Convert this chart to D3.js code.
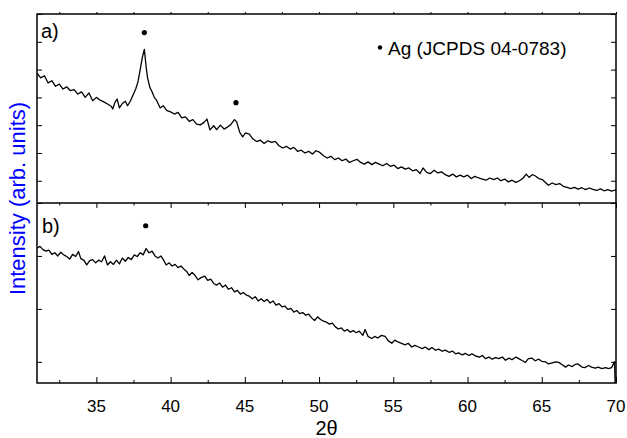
<!DOCTYPE html>
<html>
<head>
<meta charset="utf-8">
<script src="https://cdn.jsdelivr.net/npm/d3@7"></script>
<style>
  body { margin: 0; background: white; }
  text { font-family: "Liberation Sans", Arial, sans-serif; }
</style>
</head>
<body>
<div id="container"></div>
<script>
// pattern a) : 2theta and intensity
let thetaA = [31.00,31.25,31.50,31.75,32.00,32.25,32.50,32.75,33.00,33.25,33.50,33.75,34.00,34.25,34.50,34.75,35.00,35.25,35.50,35.75,
  36.00,36.10,36.25,36.40,36.55,36.75,36.95,37.10,37.30,37.50,37.65,37.80,37.95,38.10,38.23,38.35,38.45,38.60,38.75,38.90,
  39.05,39.30,39.50,39.75,40.00,40.25,40.50,40.75,41.00,41.25,41.50,41.75,42.00,42.25,42.45,42.65,42.90,43.10,43.35,43.60,
  43.85,44.05,44.30,44.45,44.65,44.85,45.05,45.30,45.55,45.80,46.05,46.30,46.55,46.80,47.05,47.30,47.55,47.80,48.05,48.30,
  48.55,48.80,49.05,49.30,49.55,49.80,50.05,50.30,50.55,50.80,51.05,51.30,51.55,51.80,52.05,52.30,52.55,52.80,53.05,53.30,
  53.55,53.80,54.05,54.30,54.55,54.80,55.05,55.30,55.55,55.80,56.05,56.30,56.55,56.80,57.00,57.25,57.50,57.75,58.00,58.25,
  58.50,58.75,59.00,59.25,59.50,59.75,60.00,60.25,60.50,60.75,61.00,61.25,61.50,61.75,62.00,62.25,62.50,62.75,63.00,63.25,
  63.50,63.75,63.95,64.15,64.35,64.55,64.80,65.05,65.25,65.45,65.70,65.95,66.20,66.45,66.70,66.95,67.20,67.45,67.70,67.95,
  68.20,68.45,68.70,68.95,69.20,69.45,69.70,70.00];
let intensityA = [587,570,578,552,560,540,548,530,538,524,528,512,520,500,516,488,500,490,484,476,
  468,458,482,494,462,478,486,470,488,512,530,556,600,645,673,610,570,536,520,500,
  490,462,470,452,448,440,446,426,430,414,420,404,401,410,422,383,398,384,400,386,
  394,402,420,412,375,358,372,368,350,341,346,334,344,338,342,326,318,324,314,320,
  306,310,300,306,296,308,302,290,282,288,276,282,272,278,266,272,277,266,260,268,
  258,266,260,254,262,252,256,244,250,242,246,236,240,226,246,230,226,238,228,232,
  222,216,224,214,220,214,220,208,216,210,206,202,210,204,210,200,206,196,202,194,
  200,210,224,212,222,218,208,204,194,184,192,186,190,180,176,172,176,170,175,168,
  174,169,165,171,164,168,163,167];

// pattern b)
let thetaB = [31.00,31.20,31.40,31.60,31.80,32.00,32.20,32.40,32.60,32.80,33.00,33.20,33.40,33.60,33.80,33.95,34.15,34.35,34.55,34.75,
  34.95,35.15,35.35,35.55,35.75,35.95,36.15,36.35,36.55,36.75,36.95,37.15,37.35,37.55,37.75,37.95,38.15,38.35,38.55,38.75,
  38.95,39.15,39.35,39.55,39.70,39.90,40.10,40.30,40.50,40.70,40.90,41.10,41.25,41.45,41.65,41.85,42.05,42.30,42.50,42.70,
  42.90,43.10,43.30,43.50,43.70,43.90,44.10,44.30,44.50,44.70,44.90,45.10,45.30,45.50,45.70,45.90,46.10,46.30,46.50,46.70,
  46.90,47.10,47.30,47.50,47.70,47.90,48.10,48.30,48.50,48.70,48.90,49.10,49.30,49.50,49.70,49.90,50.10,50.30,50.50,50.70,
  50.90,51.10,51.30,51.50,51.70,51.90,52.10,52.30,52.50,52.70,52.95,53.10,53.30,53.55,53.75,53.95,54.20,54.45,54.65,54.90,
  55.10,55.35,55.55,55.80,56.00,56.25,56.45,56.70,56.95,57.15,57.40,57.60,57.85,58.05,58.30,58.50,58.75,59.00,59.20,59.40,
  59.65,59.85,60.10,60.30,60.55,60.80,61.00,61.20,61.45,61.65,61.90,62.10,62.35,62.55,62.80,63.00,63.25,63.45,63.70,63.90,
  64.10,64.35,64.55,64.80,65.00,65.25,65.45,65.70,65.95,66.15,66.40,66.60,66.80,67.05,67.25,67.45,67.70,67.90,68.15,68.35,
  68.60,68.80,69.05,69.30,69.50,69.70,69.90,70.00];
let intensityB = [629,636,624,618,622,606,612,600,614,604,598,588,606,598,616,590,584,566,582,586,
  574,584,578,600,566,578,568,584,570,592,580,594,586,604,598,612,604,628,612,618,
  600,592,600,582,566,574,562,568,556,562,550,540,526,538,526,510,518,524,508,512,
  496,490,498,482,490,474,480,464,470,456,462,452,448,438,446,430,438,428,436,422,
  430,414,420,408,410,398,402,388,394,382,386,376,380,366,356,370,360,354,350,342,
  346,332,324,328,316,322,312,318,310,316,300,322,296,288,296,290,300,296,280,270,
  282,274,270,264,270,256,262,256,250,256,246,254,244,248,240,244,236,240,230,234,
  226,232,224,230,222,218,224,212,218,210,216,212,218,206,214,208,218,212,204,198,
  212,214,204,210,202,200,192,196,200,198,188,180,188,182,190,192,180,178,186,180,
  176,180,174,178,174,178,200,0];

// Ag reflection markers
let markerTheta = [38.23, 44.40];
let markerA = [733, 481];
let markerThetaB = [38.32];
let markerB = [714];

let xTicks = [35, 40, 45, 50, 55, 60, 65, 70];
let minorTicks = [32.5, 37.5, 42.5, 47.5, 52.5, 57.5, 62.5, 67.5];
let yTicksA = [200, 300, 400, 500, 600, 700, 800];
let yTicksB = [200, 400, 600, 800];

let w = 627;
let h = 438;
let left = 37, right = 616;
let topA = 14, mid = 203, bottom = 383;

let viz = d3.select("#container")
  .append("svg")
    .attr("width", w)
    .attr("height", h)
    .style("background-color", "white")
;

let xScale = d3.scaleLinear().domain([31, 70]).range([left, right]);
let yScaleA = d3.scaleLinear().domain([120, 800]).range([mid, topA]);
let yScaleB = d3.scaleLinear().domain([120, 800]).range([bottom, mid]);

// clip so the last point of b) can drop off the frame
let defs = viz.append("defs");
defs.append("clipPath").attr("id", "clipA")
  .append("rect").attr("x", left).attr("y", topA).attr("width", right - left).attr("height", mid - topA);
defs.append("clipPath").attr("id", "clipB")
  .append("rect").attr("x", left).attr("y", mid).attr("width", right - left).attr("height", bottom - mid);

function drawPattern(thetas, values, yScale, clipId){
  let pts = thetas.map(function(t, i){ return [t, values[i]]; });
  let line = d3.line()
    .x(function(d){ return xScale(d[0]); })
    .y(function(d){ return yScale(d[1]); });
  viz.append("path")
    .datum(pts)
    .attr("clip-path", "url(#" + clipId + ")")
    .attr("d", line)
    .attr("fill", "none")
    .attr("stroke", "black")
    .attr("stroke-width", 1.3)
    .attr("stroke-linejoin", "round");
}

drawPattern(thetaA, intensityA, yScaleA, "clipA");
drawPattern(thetaB, intensityB, yScaleB, "clipB");

// axes, all ticks pointing into the frame
function tickStyle(g){
  g.select(".domain").remove();
  g.selectAll("line").attr("stroke", "black").attr("stroke-width", 1);
  g.selectAll("text").remove();
}

// bottom axis of b)
viz.append("g").attr("transform", "translate(0," + bottom + ")")
  .call(d3.axisBottom(xScale).tickValues(xTicks).tickSize(-6))
  .call(tickStyle);
viz.append("g").attr("transform", "translate(0," + bottom + ")")
  .call(d3.axisBottom(xScale).tickValues(minorTicks).tickSize(-3))
  .call(tickStyle);

// top of b)
viz.append("g").attr("transform", "translate(0," + mid + ")")
  .call(d3.axisTop(xScale).tickValues(xTicks).tickSize(-5))
  .call(tickStyle);
viz.append("g").attr("transform", "translate(0," + mid + ")")
  .call(d3.axisTop(xScale).tickValues(minorTicks).tickSize(-2.5))
  .call(tickStyle);

// top of a)
viz.append("g").attr("transform", "translate(0," + topA + ")")
  .call(d3.axisTop(xScale).tickValues(xTicks.concat(minorTicks)).tickSize(2))
  .call(tickStyle);

// y ticks
[[yScaleA, yTicksA], [yScaleB, yTicksB]].forEach(function(p){
  viz.append("g").attr("transform", "translate(" + left + ",0)")
    .call(d3.axisLeft(p[0]).tickValues(p[1]).tickSize(-5))
    .call(tickStyle);
  viz.append("g").attr("transform", "translate(" + right + ",0)")
    .call(d3.axisRight(p[0]).tickValues(p[1]).tickSize(-5))
    .call(tickStyle);
});

// frames
viz.append("rect")
  .attr("x", left).attr("y", topA)
  .attr("width", right - left).attr("height", bottom - topA)
  .attr("fill", "none").attr("stroke", "black").attr("stroke-width", 1.5);
viz.append("line")
  .attr("x1", left).attr("x2", right).attr("y1", mid).attr("y2", mid)
  .attr("stroke", "black").attr("stroke-width", 1.5);

// x tick labels
viz.selectAll(".xlabel").data(xTicks).enter()
  .append("text")
    .classed("xlabel", true)
    .attr("x", function(d){ return xScale(d); })
    .attr("y", 412)
    .attr("text-anchor", "middle")
    .attr("font-size", 17)
    .text(function(d){ return d; })
;

viz.append("text")
  .attr("x", (left + right) / 2)
  .attr("y", 435)
  .attr("text-anchor", "middle")
  .attr("font-size", 20)
  .text("2θ");

viz.append("text")
  .attr("transform", "translate(25," + ((topA + bottom) / 2) + ") rotate(-90)")
  .attr("text-anchor", "middle")
  .attr("font-size", 22)
  .attr("fill", "#0000ff")
  .text("Intensity (arb. units)");

// panel letters
viz.append("text").attr("x", 41).attr("y", 38).attr("font-size", 20).text("a)");
viz.append("text").attr("x", 42).attr("y", 233).attr("font-size", 20).text("b)");

// Ag markers
viz.selectAll(".markA").data(markerTheta).enter()
  .append("circle")
    .classed("markA", true)
    .attr("cx", function(d){ return xScale(d); })
    .attr("cy", function(d, i){ return yScaleA(markerA[i]); })
    .attr("r", 2.6)
    .attr("fill", "black")
;
viz.selectAll(".markB").data(markerThetaB).enter()
  .append("circle")
    .classed("markB", true)
    .attr("cx", function(d){ return xScale(d); })
    .attr("cy", function(d, i){ return yScaleB(markerB[i]); })
    .attr("r", 2.6)
    .attr("fill", "black")
;

// legend
viz.append("circle").attr("cx", 380).attr("cy", 47.5).attr("r", 2.2).attr("fill", "black");
viz.append("text").attr("x", 388).attr("y", 55).attr("font-size", 19).text("Ag (JCPDS 04-0783)");
</script>
</body>
</html>
